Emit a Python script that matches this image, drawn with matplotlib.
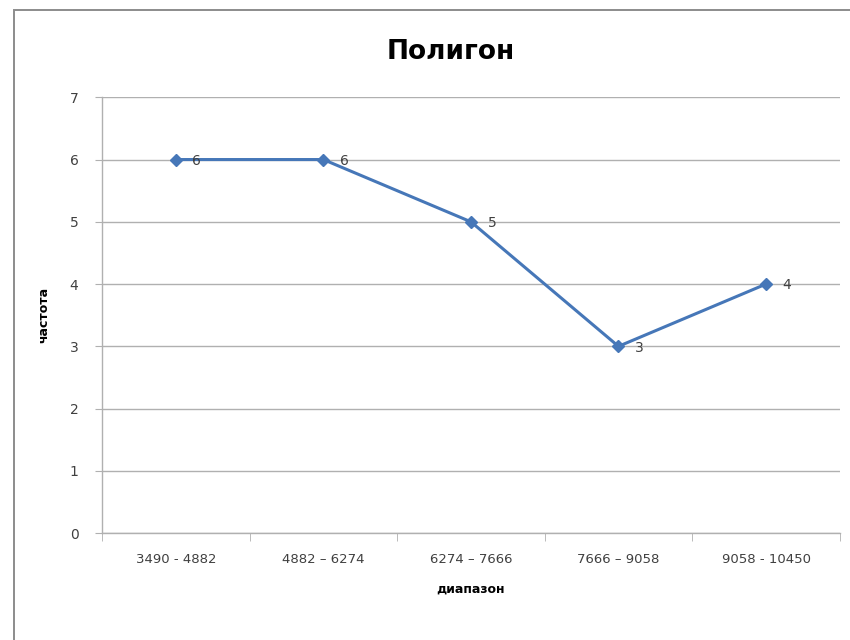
import matplotlib.pyplot as plt
from matplotlib.patches import Rectangle
import numpy as np

categories = ["3490 - 4882", "4882 – 6274", "6274 – 7666", "7666 – 9058", "9058 - 10450"]
frequency = [6, 6, 5, 3, 4]

fig = plt.figure(figsize=(8.5, 6.4), dpi=100)
ax = fig.add_axes([0.12, 0.167, 0.868, 0.681])

# outer chart frame (bottom and right run off the picture)
fig.patches.append(Rectangle((0.0165, -0.05), 1.2, 1.034, transform=fig.transFigure,
                             fill=False, edgecolor="#8c8c8c", linewidth=1.4))

x = np.arange(len(categories))
ax.plot(x, frequency, color="#4677b8", linewidth=2.2, marker="D", markersize=6,
        markerfacecolor="#4677b8", markeredgecolor="#4677b8")
for xi, v in zip(x, frequency):
    ax.annotate(str(v), (xi, v), xytext=(12, -1), textcoords="offset points",
                ha="left", va="center", fontsize=10, color="#404040")

ax.set_xlim(-0.5, len(categories) - 0.5)
ax.set_ylim(0, 7)
ax.set_yticks(range(0, 8))
ax.yaxis.grid(True, color="#b0b0b0", linewidth=1)
ax.set_axisbelow(True)

ax.set_xticks(x)
ax.set_xticklabels(categories, fontsize=9.5, color="#404040")
ax.set_xticks(np.arange(-0.5, len(categories)), minor=True)
ax.tick_params(axis="x", which="major", length=0, pad=14)
ax.tick_params(axis="x", which="minor", length=6, color="#b0b0b0")
ax.tick_params(axis="y", length=5, color="#b0b0b0", labelsize=10, labelcolor="#404040", pad=12)

for s in ["top", "right"]:
    ax.spines[s].set_visible(False)
for s in ["left", "bottom"]:
    ax.spines[s].set_color("#b0b0b0")
    ax.spines[s].set_linewidth(1)

ax.set_xlabel("диапазон", fontsize=9, fontweight="bold", labelpad=12)
ax.set_ylabel("частота", fontsize=9, fontweight="bold", labelpad=14)
fig.text(0.53, 0.918, "Полигон", ha="center", va="center", fontsize=19, fontweight="bold")

fig.savefig("out.png", dpi=100)
